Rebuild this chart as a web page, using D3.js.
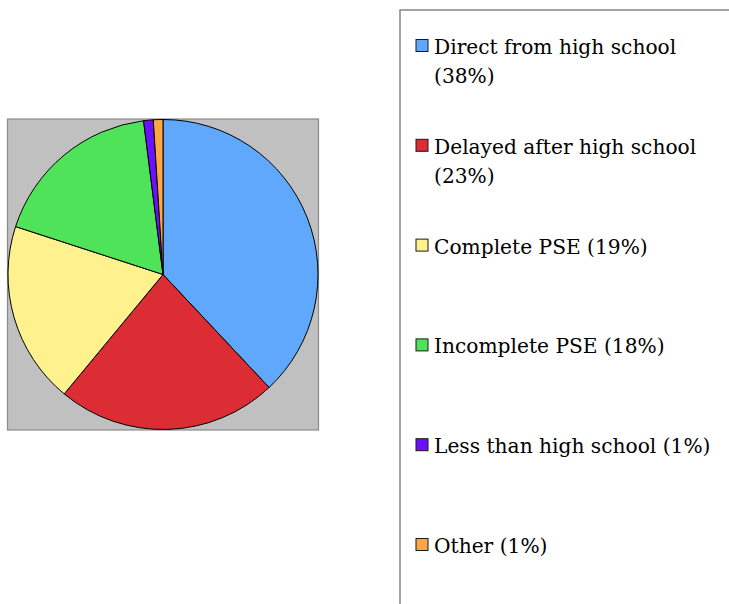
<!DOCTYPE html>
<html>
<head>
<meta charset="utf-8">
<script src="https://cdn.jsdelivr.net/npm/d3@7"></script>
<style>
    body { margin: 0; background: #ffffff; }
    svg { display: block; }
    .legend-text { font-family: "DejaVu Serif", "Liberation Serif", serif; font-size: 20.2px; }
</style>
</head>
<body>
<div id="chart"></div>
<script>
var categories = ["Direct from high school", "Delayed after high school", "Complete PSE",
    "Incomplete PSE", "Less than high school", "Other"];
var values = [38, 23, 19, 18, 1, 1];
var legendLabels = [
    ["Direct from high school", "(38%)"],
    ["Delayed after high school", "(23%)"],
    ["Complete PSE (19%)"],
    ["Incomplete PSE (18%)"],
    ["Less than high school (1%)"],
    ["Other (1%)"]
];
var colors = ["#5fa8fc", "#dc2d34", "#fff28e", "#4fe35a", "#6b11ff", "#ffa640"];

function init() {
    var width = 729;
    var height = 604;

    var svg = d3.select("#chart")
        .append("svg")
        .attr("width", width)
        .attr("height", height);

    // plot area: grey square behind the pie
    var plot = { x: 7.5, y: 119, size: 311 };
    var cx = plot.x + plot.size / 2;
    var cy = plot.y + plot.size / 2;
    var radius = 155;

    svg.append("rect")
        .attr("x", plot.x)
        .attr("y", plot.y)
        .attr("width", plot.size)
        .attr("height", plot.size)
        .attr("fill", "#c0c0c0")
        .attr("stroke", "#8a8a8a")
        .attr("stroke-width", 1.2);

    var data = categories.map(function (c, i) {
        return { name: c, value: values[i] };
    });

    var color = d3.scaleOrdinal()
        .domain(categories)
        .range(colors);

    var pie = d3.pie()
        .sort(null)
        .value(function (d) { return d.value; });

    var arc = d3.arc()
        .innerRadius(0)
        .outerRadius(radius);

    svg.append("g")
        .attr("transform", "translate(" + cx + "," + cy + ")")
        .selectAll("path")
        .data(pie(data))
        .enter()
        .append("path")
        .attr("d", arc)
        .attr("fill", function (d) { return color(d.data.name); })
        .attr("stroke", "#000000")
        .attr("stroke-width", 1)
        .attr("stroke-linejoin", "round");

    // legend box (open on the right and bottom, runs off the page)
    var box = { x: 400, y: 10 };
    svg.append("path")
        .attr("d", "M" + box.x + "," + height + "V" + box.y + "H" + (width + 5))
        .attr("fill", "none")
        .attr("stroke", "#858585")
        .attr("stroke-width", 1.5);

    var legendY = d3.scaleLinear()
        .domain([0, categories.length - 1])
        .range([54, 553]);

    var item = svg.append("g")
        .selectAll("g")
        .data(categories)
        .enter()
        .append("g")
        .attr("transform", function (d, i) {
            return "translate(0," + legendY(i) + ")";
        });

    item.append("rect")
        .attr("x", 416)
        .attr("y", -14.5)
        .attr("width", 12)
        .attr("height", 12)
        .attr("fill", function (d) { return color(d); })
        .attr("stroke", "#1a1a1a")
        .attr("stroke-width", 1);

    item.append("text")
        .attr("class", "legend-text")
        .attr("x", 434)
        .attr("y", 0)
        .attr("fill", "#000000")
        .selectAll("tspan")
        .data(function (d, i) { return legendLabels[i]; })
        .enter()
        .append("tspan")
        .attr("x", 434)
        .attr("dy", function (d, j) { return j === 0 ? 0 : 29; })
        .text(function (d) { return d; });
}

window.onload = init;
</script>
</body>
</html>
